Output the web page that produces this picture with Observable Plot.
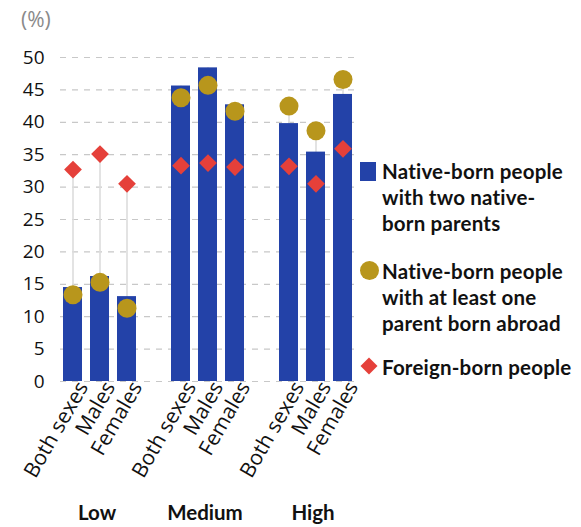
<!DOCTYPE html>
<html>
<head>
<meta charset="utf-8">
<script src="https://cdn.jsdelivr.net/npm/d3@7"></script>
<script src="https://cdn.jsdelivr.net/npm/@observablehq/plot@0.6"></script>
<style>
  html, body { margin: 0; padding: 0; background: #fff; }
  #wrap { position: relative; width: 581px; height: 527px; font-family: Lato, "Open Sans", sans-serif; }
  #chart svg { overflow: visible; }
  #unit { position: absolute; left: 21px; top: 5px; font-size: 21px; color: #8a8a8a; font-family: "Open Sans", sans-serif; }
  #legend { position: absolute; left: 358px; top: 158px; font-size: 20.5px; font-weight: 700; color: #111; line-height: 26px; letter-spacing: 0.2px; }
  .item { display: flex; align-items: flex-start; margin-bottom: 22px; }
  .item:nth-child(2) { margin-bottom: 18px; }
  .mk { width: 24px; flex: none; position: relative; height: 26px; }
  .sq { position: absolute; left: 2px; top: 4px; width: 16px; height: 19px; background: #2342a8; }
  .ci { position: absolute; left: 2px; top: 3px; width: 19px; height: 19px; border-radius: 50%; background: #b8961c; }
  .di { position: absolute; left: 5px; top: 6px; width: 12px; height: 12px; background: #e5403a; transform: rotate(45deg); }
</style>
</head>
<body>
<div id="wrap">
  <div id="chart"></div>
  <div id="unit">(%)</div>
  <div id="legend">
    <div class="item"><div class="mk"><div class="sq"></div></div><div>Native-born people<br>with two native-<br>born parents</div></div>
    <div class="item"><div class="mk"><div class="ci"></div></div><div>Native-born people<br>with at least one<br>parent born abroad</div></div>
    <div class="item"><div class="mk"><div class="di"></div></div><div>Foreign-born people</div></div>
  </div>
</div>
<script>
const levels = ["Low", "Medium", "High"];
const sexes = ["Both sexes", "Males", "Females"];
// values per level, in order Both sexes, Males, Females
const nativeTwoParents = {Low: [14.5, 16.2, 13.1], Medium: [45.6, 48.4, 42.7], High: [39.8, 35.4, 44.3]};
const nativeParentAbroad = {Low: [13.4, 15.3, 11.3], Medium: [43.8, 45.7, 41.7], High: [42.5, 38.7, 46.6]};
const foreignBorn = {Low: [32.7, 35.1, 30.5], Medium: [33.3, 33.7, 33.1], High: [33.2, 30.5, 35.9]};
const yTicks = [0, 5, 10, 15, 20, 25, 30, 35, 40, 45, 50];

const rows = [];
levels.forEach(l => sexes.forEach((s, i) => {
  rows.push({level: l, sex: s, key: l + "|" + s,
    a: nativeTwoParents[l][i], b: nativeParentAbroad[l][i], c: foreignBorn[l][i]});
}));
const domain = [];
levels.forEach((l, j) => {
  sexes.forEach(s => domain.push(l + "|" + s));
  if (j < levels.length - 1) domain.push("gap" + j);
});
const groupLabels = levels.map(l => ({level: l, key: l + "|Males"}));

const plot = Plot.plot({
  width: 378,
  height: 527,
  marginLeft: 60,
  marginRight: 22,
  marginTop: 57,
  marginBottom: 146,
  style: {fontFamily: "'Open Sans', sans-serif", fontSize: "19px", color: "#111", background: "transparent"},
  x: {domain, paddingInner: 0.28, paddingOuter: 0.11, align: 0.5, axis: null},
  y: {domain: [0, 50], ticks: yTicks, tickSize: 0, tickPadding: 16, label: null},
  marks: [
    Plot.ruleY(yTicks, {stroke: "#c8c8c8", strokeDasharray: "6,6", strokeWidth: 1.2}),
    Plot.ruleX(rows, {x: "key", y1: 0, y2: d => Math.max(d.a, d.b, d.c), stroke: "#dcdcdc", strokeWidth: 1.6}),
    Plot.barY(rows, {x: "key", y: "a", fill: "#2342a8"}),
    Plot.dot(rows, {x: "key", y: "b", r: 9.5, fill: "#b8961c"}),
    Plot.dot(rows, {x: "key", y: "c", r: 8, symbol: "diamond2", fill: "#e5403a"}),
    Plot.axisX({tickFormat: d => d.startsWith("gap") ? "" : d.split("|")[1],
      tickRotate: -60, tickSize: 0, tickPadding: 2, dx: 10, label: null, fontSize: 21}),
    Plot.text(groupLabels, {x: "key", y: 0, text: "level", dy: 132, dx: -3, fontWeight: 700, fontSize: 20.5, fontFamily: "Lato, sans-serif", fill: "#111"})
  ]
});
document.getElementById("chart").appendChild(plot);
</script>
</body>
</html>
